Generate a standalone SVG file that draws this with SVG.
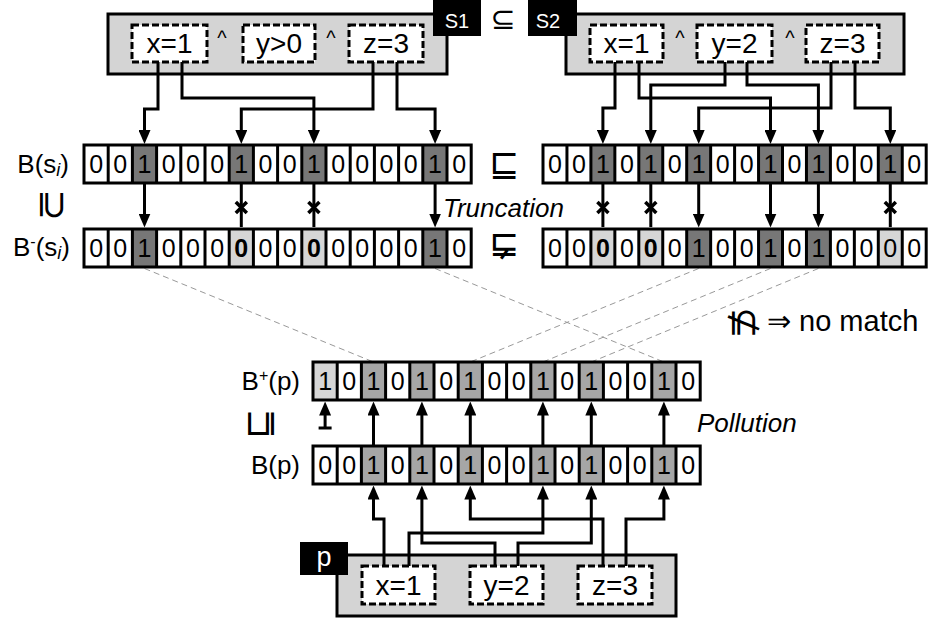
<svg xmlns="http://www.w3.org/2000/svg" width="929" height="622" viewBox="0 0 929 622">
<style>
.bg{fill:#000}
.c{fill:#fff}
.d{fill:#777}
.m{fill:#a6a6a6}
.l{fill:#d6d6d6}
.dig{font-family:"Liberation Sans",Arial,sans-serif;font-size:25px;text-anchor:middle;fill:#000}
.b{font-weight:bold}
.conn{fill:none;stroke:#000;stroke-width:3}
.x{fill:none;stroke:#000;stroke-width:3.5}
.arr{marker-end:url(#ah)}
.dash{fill:none;stroke:#999;stroke-width:1;stroke-dasharray:6 4}
.gbox{fill:#d4d4d4;stroke:#000;stroke-width:3}
.dbox{fill:#fff;stroke:#000;stroke-width:3;stroke-dasharray:7 3}
.lab{font-family:"Liberation Sans",Arial,sans-serif;font-size:26px;fill:#000}
.expr{font-family:"Liberation Sans",Arial,sans-serif;font-size:28px;text-anchor:middle;fill:#000}
.caret{font-family:"Liberation Sans",Arial,sans-serif;font-size:20px;text-anchor:middle;fill:#000}
.tag{font-family:"Liberation Sans",Arial,sans-serif;font-size:20px;text-anchor:middle;fill:#fff}
.sym{font-family:"DejaVu Sans",sans-serif;fill:#000;text-anchor:middle}
.it{font-style:italic}
</style>
<defs>
<marker id="ah" viewBox="0 0 14 12" refX="9" refY="6" markerWidth="14" markerHeight="12" markerUnits="userSpaceOnUse" orient="auto"><path d="M0,0L14,6L0,12z" fill="#000"/></marker>
</defs>

<!-- dashed mapping lines -->
<g id="mapping">
<line class="dash" x1="144.5" y1="268.5" x2="373.5" y2="362"/>
<line class="dash" x1="435.1" y1="268.5" x2="663.9" y2="362"/>
<line class="dash" x1="698.7" y1="268.5" x2="470.3" y2="362"/>
<line class="dash" x1="770.5" y1="268.5" x2="542.9" y2="362"/>
<line class="dash" x1="818.4" y1="268.5" x2="591.3" y2="362"/>
</g>

<!-- s1 node -->
<g id="s1">
<rect class="gbox" x="108" y="14" width="339" height="60"/>
<rect class="bg" x="433" y="0" width="48" height="36"/>
<text class="tag" x="457" y="28">S1</text>
<rect class="dbox" x="132" y="25" width="75" height="37"/>
<text class="expr" x="169.5" y="53">x=1</text>
<text class="caret" x="222" y="45">^</text>
<rect class="dbox" x="243" y="25" width="72" height="37"/>
<text class="expr" x="279" y="53">y&gt;0</text>
<text class="caret" x="331" y="45">^</text>
<rect class="dbox" x="349" y="25" width="74" height="37"/>
<text class="expr" x="386" y="53">z=3</text>
</g>

<text class="sym" x="503" y="29" style="font-size:30px">⊆</text>

<!-- s2 node -->
<g id="s2">
<rect class="gbox" x="566" y="14" width="338" height="60"/>
<rect class="bg" x="528" y="0" width="49" height="36"/>
<text class="tag" x="548" y="28">S2</text>
<rect class="dbox" x="590" y="25" width="73" height="37"/>
<text class="expr" x="626.5" y="53">x=1</text>
<text class="caret" x="680" y="45">^</text>
<rect class="dbox" x="697" y="25" width="75" height="37"/>
<text class="expr" x="734.5" y="53">y=2</text>
<text class="caret" x="790" y="45">^</text>
<rect class="dbox" x="806" y="25" width="73" height="37"/>
<text class="expr" x="842.5" y="53">z=3</text>
</g>

<!-- B(s1) -->
<g id="Bs1" transform="translate(84,145)">
<rect class="bg" x="-1.5" y="-1.5" width="390.2" height="41"/>
<rect class="c" x="1.5" y="1.5" width="21.2" height="35"/>
<rect class="c" x="25.7" y="1.5" width="21.2" height="35"/>
<rect class="d" x="49.9" y="1.5" width="21.2" height="35"/>
<rect class="c" x="74.1" y="1.5" width="21.2" height="35"/>
<rect class="c" x="98.3" y="1.5" width="21.2" height="35"/>
<rect class="c" x="122.5" y="1.5" width="21.2" height="35"/>
<rect class="d" x="146.7" y="1.5" width="21.2" height="35"/>
<rect class="c" x="170.9" y="1.5" width="21.2" height="35"/>
<rect class="c" x="195.1" y="1.5" width="21.2" height="35"/>
<rect class="d" x="219.3" y="1.5" width="21.2" height="35"/>
<rect class="c" x="243.5" y="1.5" width="21.2" height="35"/>
<rect class="c" x="267.7" y="1.5" width="21.2" height="35"/>
<rect class="c" x="291.9" y="1.5" width="21.2" height="35"/>
<rect class="c" x="316.1" y="1.5" width="21.2" height="35"/>
<rect class="d" x="340.3" y="1.5" width="21.2" height="35"/>
<rect class="c" x="364.5" y="1.5" width="21.2" height="35"/>
<text class="dig" y="28"><tspan x="12.1">0</tspan><tspan x="36.3">0</tspan><tspan x="60.5">1</tspan><tspan x="84.7">0</tspan><tspan x="108.9">0</tspan><tspan x="133.1">0</tspan><tspan x="157.3">1</tspan><tspan x="181.5">0</tspan><tspan x="205.7">0</tspan><tspan x="229.9">1</tspan><tspan x="254.1">0</tspan><tspan x="278.3">0</tspan><tspan x="302.5">0</tspan><tspan x="326.7">0</tspan><tspan x="350.9">1</tspan><tspan x="375.1">0</tspan></text>
</g>

<!-- B-(s1) -->
<g id="Bm_s1" transform="translate(84,229)">
<rect class="bg" x="-1.5" y="-1.5" width="390.2" height="41"/>
<rect class="c" x="1.5" y="1.5" width="21.2" height="35"/>
<rect class="c" x="25.7" y="1.5" width="21.2" height="35"/>
<rect class="d" x="49.9" y="1.5" width="21.2" height="35"/>
<rect class="c" x="74.1" y="1.5" width="21.2" height="35"/>
<rect class="c" x="98.3" y="1.5" width="21.2" height="35"/>
<rect class="c" x="122.5" y="1.5" width="21.2" height="35"/>
<rect class="l" x="146.7" y="1.5" width="21.2" height="35"/>
<rect class="c" x="170.9" y="1.5" width="21.2" height="35"/>
<rect class="c" x="195.1" y="1.5" width="21.2" height="35"/>
<rect class="l" x="219.3" y="1.5" width="21.2" height="35"/>
<rect class="c" x="243.5" y="1.5" width="21.2" height="35"/>
<rect class="c" x="267.7" y="1.5" width="21.2" height="35"/>
<rect class="c" x="291.9" y="1.5" width="21.2" height="35"/>
<rect class="c" x="316.1" y="1.5" width="21.2" height="35"/>
<rect class="d" x="340.3" y="1.5" width="21.2" height="35"/>
<rect class="c" x="364.5" y="1.5" width="21.2" height="35"/>
<text class="dig" y="28"><tspan x="12.1">0</tspan><tspan x="36.3">0</tspan><tspan x="60.5">1</tspan><tspan x="84.7">0</tspan><tspan x="108.9">0</tspan><tspan x="133.1">0</tspan><tspan x="157.3" class="b">0</tspan><tspan x="181.5">0</tspan><tspan x="205.7">0</tspan><tspan x="229.9" class="b">0</tspan><tspan x="254.1">0</tspan><tspan x="278.3">0</tspan><tspan x="302.5">0</tspan><tspan x="326.7">0</tspan><tspan x="350.9">1</tspan><tspan x="375.1">0</tspan></text>
</g>

<!-- B(s2) -->
<g id="Bs2" transform="translate(543,145)">
<rect class="bg" x="-1.5" y="-1.5" width="386.2" height="41"/>
<rect class="c" x="1.5" y="1.5" width="20.95" height="35"/>
<rect class="c" x="25.45" y="1.5" width="20.95" height="35"/>
<rect class="d" x="49.4" y="1.5" width="20.95" height="35"/>
<rect class="c" x="73.35" y="1.5" width="20.95" height="35"/>
<rect class="d" x="97.3" y="1.5" width="20.95" height="35"/>
<rect class="c" x="121.25" y="1.5" width="20.95" height="35"/>
<rect class="d" x="145.2" y="1.5" width="20.95" height="35"/>
<rect class="c" x="169.15" y="1.5" width="20.95" height="35"/>
<rect class="c" x="193.1" y="1.5" width="20.95" height="35"/>
<rect class="d" x="217.05" y="1.5" width="20.95" height="35"/>
<rect class="c" x="241" y="1.5" width="20.95" height="35"/>
<rect class="d" x="264.95" y="1.5" width="20.95" height="35"/>
<rect class="c" x="288.9" y="1.5" width="20.95" height="35"/>
<rect class="c" x="312.85" y="1.5" width="20.95" height="35"/>
<rect class="d" x="336.8" y="1.5" width="20.95" height="35"/>
<rect class="c" x="360.75" y="1.5" width="20.95" height="35"/>
<text class="dig" y="28"><tspan x="11.98">0</tspan><tspan x="35.93">0</tspan><tspan x="59.88">1</tspan><tspan x="83.83">0</tspan><tspan x="107.78">1</tspan><tspan x="131.73">0</tspan><tspan x="155.68">1</tspan><tspan x="179.63">0</tspan><tspan x="203.58">0</tspan><tspan x="227.53">1</tspan><tspan x="251.48">0</tspan><tspan x="275.43">1</tspan><tspan x="299.38">0</tspan><tspan x="323.33">0</tspan><tspan x="347.28">1</tspan><tspan x="371.23">0</tspan></text>
</g>

<!-- B-(s2) -->
<g id="Bm_s2" transform="translate(543,229)">
<rect class="bg" x="-1.5" y="-1.5" width="386.2" height="41"/>
<rect class="c" x="1.5" y="1.5" width="20.95" height="35"/>
<rect class="c" x="25.45" y="1.5" width="20.95" height="35"/>
<rect class="l" x="49.4" y="1.5" width="20.95" height="35"/>
<rect class="c" x="73.35" y="1.5" width="20.95" height="35"/>
<rect class="l" x="97.3" y="1.5" width="20.95" height="35"/>
<rect class="c" x="121.25" y="1.5" width="20.95" height="35"/>
<rect class="d" x="145.2" y="1.5" width="20.95" height="35"/>
<rect class="c" x="169.15" y="1.5" width="20.95" height="35"/>
<rect class="c" x="193.1" y="1.5" width="20.95" height="35"/>
<rect class="d" x="217.05" y="1.5" width="20.95" height="35"/>
<rect class="c" x="241" y="1.5" width="20.95" height="35"/>
<rect class="d" x="264.95" y="1.5" width="20.95" height="35"/>
<rect class="c" x="288.9" y="1.5" width="20.95" height="35"/>
<rect class="c" x="312.85" y="1.5" width="20.95" height="35"/>
<rect class="l" x="336.8" y="1.5" width="20.95" height="35"/>
<rect class="c" x="360.75" y="1.5" width="20.95" height="35"/>
<text class="dig" y="28"><tspan x="11.98">0</tspan><tspan x="35.93">0</tspan><tspan x="59.88" class="b">0</tspan><tspan x="83.83">0</tspan><tspan x="107.78" class="b">0</tspan><tspan x="131.73">0</tspan><tspan x="155.68">1</tspan><tspan x="179.63">0</tspan><tspan x="203.58">0</tspan><tspan x="227.53">1</tspan><tspan x="251.48">0</tspan><tspan x="275.43">1</tspan><tspan x="299.38">0</tspan><tspan x="323.33">0</tspan><tspan x="347.28">0</tspan><tspan x="371.23">0</tspan></text>
</g>

<!-- B+(p) -->
<g id="Bp_plus" transform="translate(313,362)">
<rect class="bg" x="-1.5" y="-1.5" width="390.2" height="41"/>
<rect class="l" x="1.5" y="1.5" width="21.2" height="35"/>
<rect class="c" x="25.7" y="1.5" width="21.2" height="35"/>
<rect class="m" x="49.9" y="1.5" width="21.2" height="35"/>
<rect class="c" x="74.1" y="1.5" width="21.2" height="35"/>
<rect class="m" x="98.3" y="1.5" width="21.2" height="35"/>
<rect class="c" x="122.5" y="1.5" width="21.2" height="35"/>
<rect class="m" x="146.7" y="1.5" width="21.2" height="35"/>
<rect class="c" x="170.9" y="1.5" width="21.2" height="35"/>
<rect class="c" x="195.1" y="1.5" width="21.2" height="35"/>
<rect class="m" x="219.3" y="1.5" width="21.2" height="35"/>
<rect class="c" x="243.5" y="1.5" width="21.2" height="35"/>
<rect class="m" x="267.7" y="1.5" width="21.2" height="35"/>
<rect class="c" x="291.9" y="1.5" width="21.2" height="35"/>
<rect class="c" x="316.1" y="1.5" width="21.2" height="35"/>
<rect class="m" x="340.3" y="1.5" width="21.2" height="35"/>
<rect class="c" x="364.5" y="1.5" width="21.2" height="35"/>
<text class="dig" y="28"><tspan x="12.1">1</tspan><tspan x="36.3">0</tspan><tspan x="60.5">1</tspan><tspan x="84.7">0</tspan><tspan x="108.9">1</tspan><tspan x="133.1">0</tspan><tspan x="157.3">1</tspan><tspan x="181.5">0</tspan><tspan x="205.7">0</tspan><tspan x="229.9">1</tspan><tspan x="254.1">0</tspan><tspan x="278.3">1</tspan><tspan x="302.5">0</tspan><tspan x="326.7">0</tspan><tspan x="350.9">1</tspan><tspan x="375.1">0</tspan></text>
</g>

<!-- B(p) -->
<g id="Bp" transform="translate(313,446)">
<rect class="bg" x="-1.5" y="-1.5" width="390.2" height="41"/>
<rect class="c" x="1.5" y="1.5" width="21.2" height="35"/>
<rect class="c" x="25.7" y="1.5" width="21.2" height="35"/>
<rect class="m" x="49.9" y="1.5" width="21.2" height="35"/>
<rect class="c" x="74.1" y="1.5" width="21.2" height="35"/>
<rect class="m" x="98.3" y="1.5" width="21.2" height="35"/>
<rect class="c" x="122.5" y="1.5" width="21.2" height="35"/>
<rect class="m" x="146.7" y="1.5" width="21.2" height="35"/>
<rect class="c" x="170.9" y="1.5" width="21.2" height="35"/>
<rect class="c" x="195.1" y="1.5" width="21.2" height="35"/>
<rect class="m" x="219.3" y="1.5" width="21.2" height="35"/>
<rect class="c" x="243.5" y="1.5" width="21.2" height="35"/>
<rect class="m" x="267.7" y="1.5" width="21.2" height="35"/>
<rect class="c" x="291.9" y="1.5" width="21.2" height="35"/>
<rect class="c" x="316.1" y="1.5" width="21.2" height="35"/>
<rect class="m" x="340.3" y="1.5" width="21.2" height="35"/>
<rect class="c" x="364.5" y="1.5" width="21.2" height="35"/>
<text class="dig" y="28"><tspan x="12.1">0</tspan><tspan x="36.3">0</tspan><tspan x="60.5">1</tspan><tspan x="84.7">0</tspan><tspan x="108.9">1</tspan><tspan x="133.1">0</tspan><tspan x="157.3">1</tspan><tspan x="181.5">0</tspan><tspan x="205.7">0</tspan><tspan x="229.9">1</tspan><tspan x="254.1">0</tspan><tspan x="278.3">1</tspan><tspan x="302.5">0</tspan><tspan x="326.7">0</tspan><tspan x="350.9">1</tspan><tspan x="375.1">0</tspan></text>
</g>

<!-- p node -->
<g id="p">
<rect class="gbox" x="337" y="555" width="339" height="61"/>
<rect class="bg" x="300" y="542" width="48" height="33"/>
<text class="tag" x="324" y="566" style="font-size:27px">p</text>
<rect class="dbox" x="362" y="566" width="73" height="38"/>
<text class="expr" x="398.5" y="595">x=1</text>
<rect class="dbox" x="470" y="566" width="73" height="38"/>
<text class="expr" x="506.5" y="595">y=2</text>
<rect class="dbox" x="578" y="566" width="74" height="38"/>
<text class="expr" x="615" y="595">z=3</text>
</g>

<!-- connectors -->
<g id="connectors">
<path class="conn arr" d="M158,62V109H144.5V139"/>
<path class="conn arr" d="M182,62V98H313.9V139"/>
<path class="conn arr" d="M373,62V109H241.3V139"/>
<path class="conn arr" d="M397,62V109H435.1V139"/>
<path class="conn arr" d="M615,62V108H602.9V139"/>
<path class="conn arr" d="M639,62V98H770.5V139"/>
<path class="conn arr" d="M725,62V85H650.8V139"/>
<path class="conn arr" d="M747,62V85H818.4V139"/>
<path class="conn arr" d="M831,62V108H698.7V139"/>
<path class="conn arr" d="M855,62V108H890.3V139"/>
<!-- truncation -->
<path class="conn arr" d="M144.5,184V222.5"/>
<path class="conn arr" d="M435.1,184V222.5"/>
<path class="conn" d="M241.3,184V227"/>
<path class="conn" d="M313.9,184V227"/>
<path class="conn" d="M602.9,184V227"/>
<path class="conn" d="M650.8,184V227"/>
<path class="conn" d="M890.3,184V227"/>
<path class="conn arr" d="M698.7,184V222.5"/>
<path class="conn arr" d="M770.5,184V222.5"/>
<path class="conn arr" d="M818.4,184V222.5"/>
<path class="x" d="M235.8,202l11,11M246.8,202l-11,11"/>
<path class="x" d="M308.4,202l11,11M319.4,202l-11,11"/>
<path class="x" d="M597.4,202l11,11M608.4,202l-11,11"/>
<path class="x" d="M645.3,202l11,11M656.3,202l-11,11"/>
<path class="x" d="M884.8,202l11,11M895.8,202l-11,11"/>
<!-- pollution -->
<path class="conn arr" d="M325.1,428V406.5"/>
<path class="conn" d="M318.6,428H331.6"/>
<path class="conn arr" d="M373.5,445V406.5"/>
<path class="conn arr" d="M421.9,445V406.5"/>
<path class="conn arr" d="M470.3,445V406.5"/>
<path class="conn arr" d="M542.9,445V406.5"/>
<path class="conn arr" d="M591.3,445V406.5"/>
<path class="conn arr" d="M663.9,445V406.5"/>
<!-- p to B(p) -->
<path class="conn arr" d="M384,566V519H373.5V490.5"/>
<path class="conn arr" d="M409,566V533H542.9V490.5"/>
<path class="conn arr" d="M495,566V543H421.9V490.5"/>
<path class="conn arr" d="M518,566V543H591.3V490.5"/>
<path class="conn arr" d="M603,566V519H470.3V490.5"/>
<path class="conn arr" d="M626,566V519H663.9V490.5"/>
</g>

<!-- labels -->
<g id="labels">
<text class="lab" x="69" y="173" text-anchor="end">B(s<tspan class="it" style="font-size:18px" dy="3">i</tspan><tspan dy="-3">)</tspan></text>
<text class="lab" x="70" y="256" text-anchor="end">B<tspan style="font-size:16px" dy="-9">-</tspan><tspan dy="9">(s</tspan><tspan class="it" style="font-size:18px" dy="3">i</tspan><tspan dy="-3">)</tspan></text>
<text class="sym" style="font-size:38px" transform="translate(53,205) rotate(90)" dominant-baseline="central">⊇</text>
<text class="sym" x="504" y="176" style="font-size:36px">⊑</text>
<text class="sym" x="504" y="256" style="font-size:36px">⋤</text>
<text class="lab it" x="443" y="217">Truncation</text>
<text class="sym" style="font-size:38px" transform="translate(745,323) rotate(90)" dominant-baseline="central">⊈</text>
<text class="lab" x="767" y="331" style="font-size:29px">⇒ no match</text>
<text class="lab" x="300" y="390" text-anchor="end">B<tspan style="font-size:16px" dy="-9">+</tspan><tspan dy="9">(p)</tspan></text>
<text class="sym" style="font-size:36px" transform="translate(258,424) rotate(-90)" dominant-baseline="central">⊑</text>
<text class="lab it" x="697" y="432">Pollution</text>
<text class="lab" x="300" y="474" text-anchor="end">B(p)</text>
</g>
</svg>
